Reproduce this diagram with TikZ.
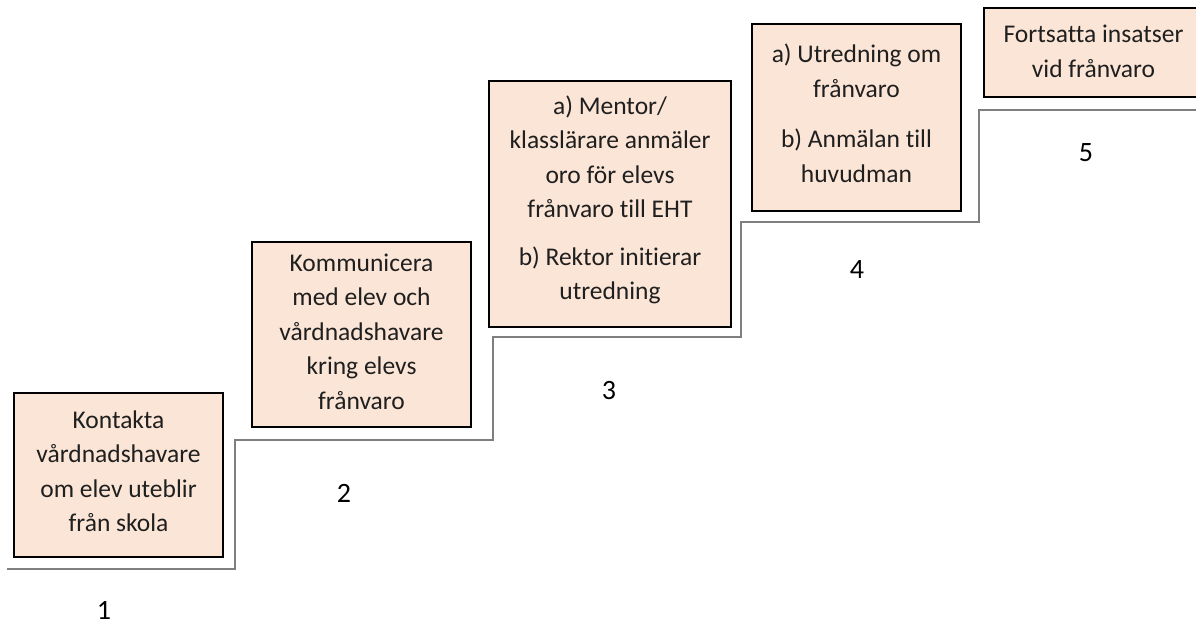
\documentclass[tikz,border=0pt]{standalone}
\usepackage{fontspec}
\setmainfont{Carlito}[Ligatures={NoCommon}]
\definecolor{boxfill}{HTML}{FBE5D6}
\definecolor{stepgray}{HTML}{7F7F7F}
\tikzset{
  stepbox/.style={draw=black, line width=2.6pt, fill=boxfill, inner sep=0pt},
  boxtext/.style={align=center, inner sep=0pt, font=\fontsize{25.5}{34.5}\selectfont, text=black!88},
  numlabel/.style={font=\fontsize{28}{34}\selectfont, text=black, inner sep=0pt},
  stairline/.style={draw=stepgray, line width=2.2pt}
}
\begin{document}
\begin{tikzpicture}[x=1pt,y=-1pt]
\clip (0,0) rectangle (1196,625);
\fill[white] (0,0) rectangle (1196,625);
% stairs
\draw[stairline] (7,569) -- (235,569) -- (235,440) -- (493,440) -- (493,337) -- (741,337) -- (741,222) -- (979,222) -- (979,110) -- (1210,110);
% boxes
\node[stepbox, minimum width=209pt, minimum height=164pt] (b1) at (118.5,475) {};
\node[boxtext] (t1) at ([yshift=4pt]b1.center)
  {Kontakta\\vårdnadshavare\\om elev uteblir\\från skola};
\node[stepbox, minimum width=219pt, minimum height=185pt] (b2) at (361.5,334.5) {};
\node[boxtext] (t2) at ([yshift=3pt]b2.center)
  {Kommunicera\\med elev och\\vårdnadshavare\\kring elevs\\frånvaro};
\node[stepbox, minimum width=242pt, minimum height=246pt] (b3) at (610,204) {};
\node[boxtext] (t3) at ([yshift=4pt]b3.center)
  {a) Mentor/\\klasslärare anmäler\\oro för elevs\\frånvaro till EHT\\[13pt]b) Rektor initierar\\utredning};
\node[stepbox, minimum width=209pt, minimum height=187pt] (b4) at (856.5,117.5) {};
\node[boxtext] (t4) at ([yshift=4pt]b4.center)
  {a) Utredning om\\frånvaro\\[16pt]b) Anmälan till\\huvudman};
\node[stepbox, minimum width=219pt, minimum height=89pt] (b5) at (1093.5,52.5) {};
\node[boxtext] (t5) at ([yshift=1pt]b5.center) {Fortsatta insatser\\vid frånvaro};
% numbers
\node[numlabel] (n1) at (104,610) {1};
\node[numlabel] (n2) at (344,493) {2};
\node[numlabel] (n3) at (609,390) {3};
\node[numlabel] (n4) at (857,270) {4};
\node[numlabel] (n5) at (1086,153) {5};
\end{tikzpicture}
\end{document}
